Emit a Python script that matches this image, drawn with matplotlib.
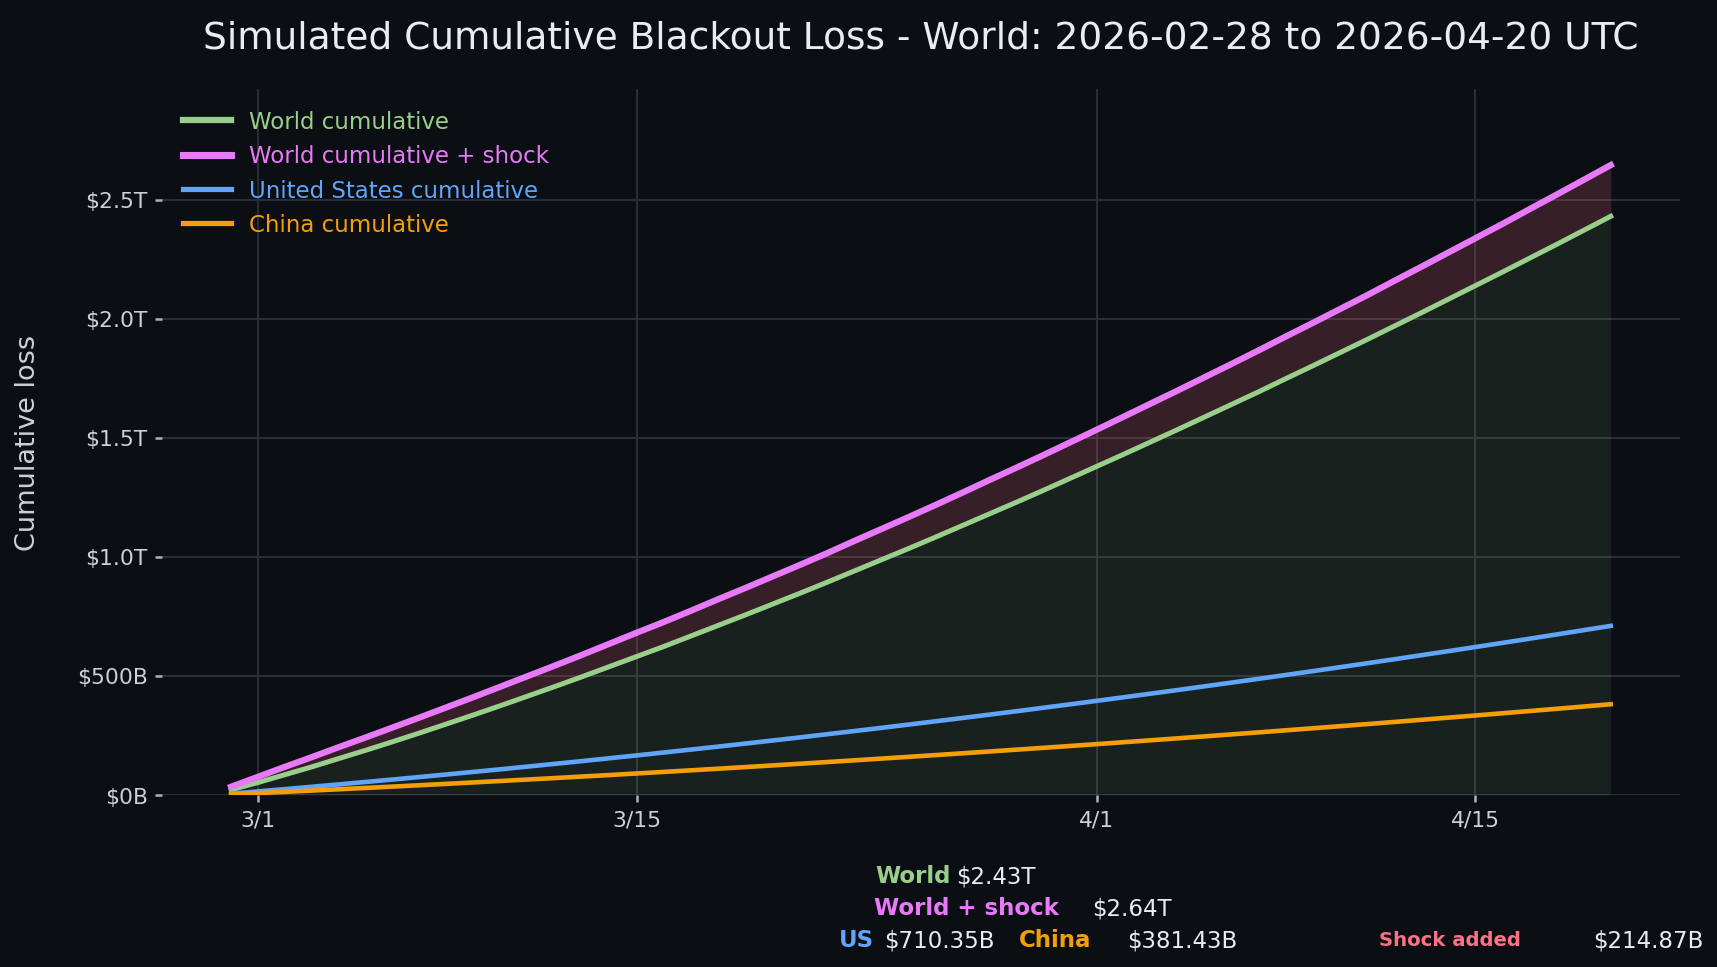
import numpy as np
import pandas as pd
import matplotlib
matplotlib.use("Agg")
import matplotlib.pyplot as plt
import matplotlib.dates as mdates
from matplotlib.ticker import FuncFormatter

# daily dates, 2026-02-28 .. 2026-04-20
dates = pd.date_range("2026-02-28", "2026-04-20", freq="D")

# cumulative losses in trillions USD
world = [0.022, 0.053, 0.086, 0.119, 0.154, 0.189, 0.225, 0.262, 0.300, 0.338,
         0.377, 0.417, 0.457, 0.498, 0.540, 0.582, 0.624, 0.668, 0.712, 0.756,
         0.801, 0.846, 0.892, 0.939, 0.986, 1.033, 1.081, 1.130, 1.179, 1.228,
         1.278, 1.329, 1.380, 1.431, 1.483, 1.535, 1.588, 1.641, 1.694, 1.749,
         1.803, 1.858, 1.913, 1.969, 2.025, 2.082, 2.139, 2.196, 2.254, 2.312,
         2.371, 2.430]
world_shock = [0.035, 0.077, 0.119, 0.160, 0.202, 0.243, 0.285, 0.327, 0.370, 0.413,
               0.457, 0.501, 0.545, 0.590, 0.636, 0.682, 0.727, 0.774, 0.822, 0.869,
               0.917, 0.965, 1.014, 1.065, 1.115, 1.165, 1.216, 1.268, 1.321, 1.373,
               1.426, 1.480, 1.534, 1.589, 1.644, 1.699, 1.755, 1.811, 1.868, 1.926,
               1.983, 2.041, 2.099, 2.159, 2.218, 2.278, 2.338, 2.398, 2.460, 2.521,
               2.583, 2.645]
us = [0.0060, 0.0155, 0.0252, 0.0350, 0.0451, 0.0553, 0.0656, 0.0762, 0.0869, 0.0978,
      0.1088, 0.1201, 0.1315, 0.1430, 0.1548, 0.1667, 0.1788, 0.1911, 0.2035, 0.2161,
      0.2289, 0.2418, 0.2550, 0.2683, 0.2817, 0.2954, 0.3092, 0.3232, 0.3373, 0.3516,
      0.3662, 0.3808, 0.3957, 0.4107, 0.4259, 0.4412, 0.4568, 0.4725, 0.4884, 0.5044,
      0.5206, 0.5370, 0.5536, 0.5703, 0.5873, 0.6043, 0.6216, 0.6390, 0.6566, 0.6744,
      0.6924, 0.71035]
china = [0.0030, 0.0082, 0.0136, 0.0190, 0.0245, 0.0301, 0.0358, 0.0415, 0.0474, 0.0533,
         0.0594, 0.0655, 0.0717, 0.0780, 0.0843, 0.0908, 0.0973, 0.1040, 0.1107, 0.1175,
         0.1244, 0.1314, 0.1385, 0.1456, 0.1529, 0.1602, 0.1676, 0.1751, 0.1827, 0.1904,
         0.1982, 0.2060, 0.2139, 0.2220, 0.2301, 0.2383, 0.2466, 0.2550, 0.2634, 0.2720,
         0.2806, 0.2893, 0.2981, 0.3070, 0.3160, 0.3251, 0.3342, 0.3435, 0.3528, 0.3622,
         0.3718, 0.38143]

# summary figures shown under the chart
total_world = "$2.43T"
total_shock = "$2.64T"
total_us = "$710.35B"
total_china = "$381.43B"
shock_added = "$214.87B"

BG = "#0b0e13"
GREEN = "#98d08b"
PINK = "#e879f9"
BLUE = "#60a5fa"
ORANGE = "#f59e0b"
ROSE = "#fb7185"
TXT = "#c9d1d9"
GRID = "#2b3038"

plt.rcParams['font.family'] = ['DejaVu Sans']

fig = plt.figure(figsize=(11.45, 6.45), dpi=150, facecolor=BG)
ax = fig.add_axes([0.0944, 0.1777, 0.8836, 0.7293])
ax.set_facecolor(BG)

ax.fill_between(dates, 0, world, color=GREEN, alpha=0.10, linewidth=0)
ax.fill_between(dates, world, world_shock, color=ROSE, alpha=0.18, linewidth=0)

ax.plot(dates, world, color=GREEN, lw=2.4, label="World cumulative")
ax.plot(dates, world_shock, color=PINK, lw=3.0, label="World cumulative + shock")
ax.plot(dates, us, color=BLUE, lw=2.2, label="United States cumulative")
ax.plot(dates, china, color=ORANGE, lw=2.2, label="China cumulative")

ax.set_ylim(0, max(world_shock) * 1.12)


def money(v, pos):
    if v >= 1:
        return f"${v:.1f}T"
    return f"${v * 1000:.0f}B"


ax.yaxis.set_major_formatter(FuncFormatter(money))
ax.xaxis.set_major_locator(mdates.DayLocator(bymonthday=[1, 15]))
ax.xaxis.set_major_formatter(FuncFormatter(
    lambda v, pos: f"{mdates.num2date(v).month}/{mdates.num2date(v).day}"))

ax.grid(True, color=GRID, lw=0.9)
ax.set_axisbelow(True)
for s in ax.spines.values():
    s.set_visible(False)
ax.tick_params(colors="#aab2bd", labelcolor=TXT, labelsize=10.5, length=3.5, width=1.2)

ax.set_title("Simulated Cumulative Blackout Loss - World: 2026-02-28 to 2026-04-20 UTC",
             color="#e6edf3", fontsize=18, pad=20)
ax.set_ylabel("Cumulative loss", color=TXT, fontsize=13)
ax.yaxis.set_label_coords(-0.0795, 0.5)

leg = ax.legend(loc="upper left", frameon=False, fontsize=11, handlelength=2.1,
                labelspacing=0.5)
for txt, line, w in zip(leg.get_texts(), leg.get_lines(), [3.0, 3.4, 2.5, 2.5]):
    txt.set_color(line.get_color())
    line.set_linewidth(w)

# summary block under the axes
W, H = 1717, 968


def ftext(x, y, s, **kw):
    fig.text(x / W, 1 - y / H, s, va="center", ha="left", fontsize=11, **kw)


ftext(875, 877, "World", color=GREEN, fontweight="bold")
ftext(956, 877, total_world, color="#e6edf3")
ftext(874, 909, "World + shock", color=PINK, fontweight="bold")
ftext(1092, 909, total_shock, color="#e6edf3")
ftext(839, 941, "US", color=BLUE, fontweight="bold")
ftext(884, 941, total_us, color="#e6edf3")
ftext(1019, 941, "China", color=ORANGE, fontweight="bold")
ftext(1127, 941, total_china, color="#e6edf3")
fig.text(1379 / W, 1 - 941 / H, "Shock added", color=ROSE, fontweight="bold",
         fontsize=9.4, va="center", ha="left")
ftext(1593, 941, shock_added, color="#e6edf3")

fig.savefig("out.png", dpi=150, facecolor=BG)
